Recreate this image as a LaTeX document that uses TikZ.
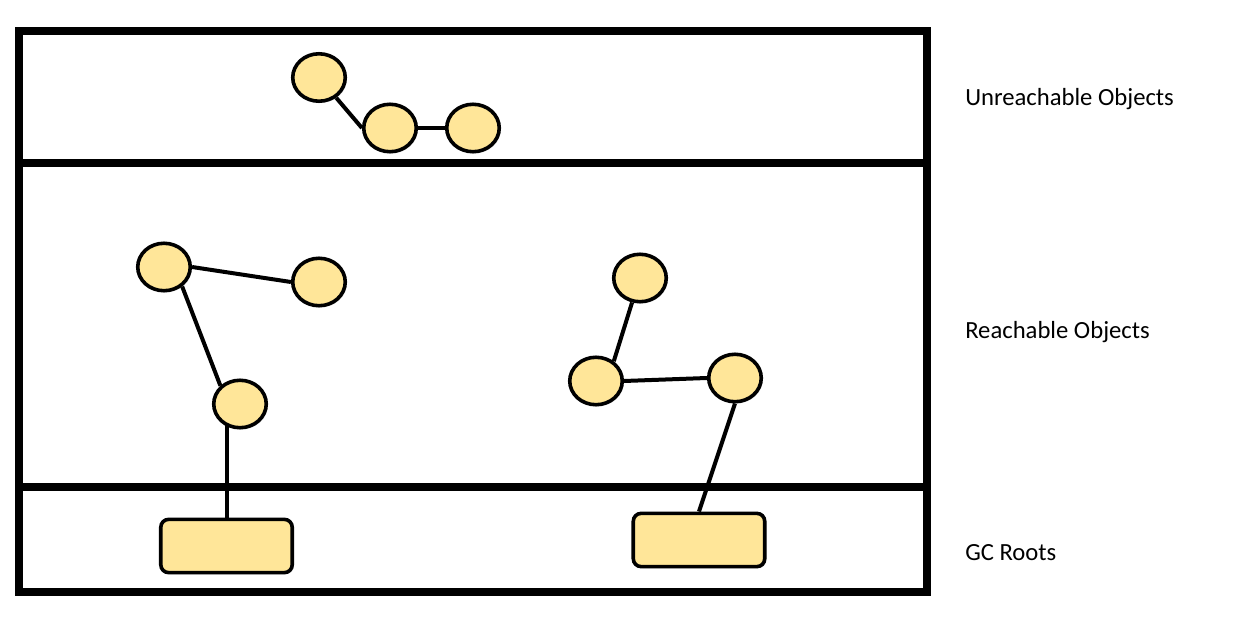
\documentclass[tikz,border=0pt]{standalone}
\usepackage{fontspec}
\setmainfont{Carlito}
\usetikzlibrary{shapes.geometric,backgrounds,shadows}
\definecolor{objfill}{HTML}{FFE699}
\tikzset{
  obj/.style={ellipse, draw=black, line width=2.7pt, fill=objfill, inner sep=0pt,
    minimum width=39.4pt, minimum height=35.6pt,
    drop shadow={shadow xshift=1.2pt, shadow yshift=-1.2pt, opacity=0.25}},
  root/.style={rectangle, rounded corners=6pt, draw=black, line width=2.7pt, fill=objfill,
    inner sep=0pt, minimum width=98.6pt, minimum height=40pt,
    drop shadow={shadow xshift=1.2pt, shadow yshift=-1.2pt, opacity=0.25}},
  link/.style={draw=black, line width=3pt},
  frame/.style={draw=black, line width=6pt},
  lbl/.style={anchor=west, inner sep=0pt, font=\fontsize{18.5}{22}\selectfont}
}
\begin{document}
\begin{tikzpicture}[x=0.75pt, y=-0.75pt]
\useasboundingbox (0,0) rectangle (1247,627);
% frame
\coordinate (tl) at (19,31);
\coordinate (br) at (927,592);
\coordinate (s1l) at (19,163);
\coordinate (s1r) at (927,163);
\coordinate (s2l) at (19,487);
\coordinate (s2r) at (927,487);
\draw[frame] (tl) rectangle (br);
\draw[frame] (s1l) -- (s1r);
\draw[frame] (s2l) -- (s2r);
% unreachable
\node[obj] (u1) at (319,77.5) {};
\node[obj] (u2) at (390,128) {};
\node[obj] (u3) at (473,128) {};
% reachable left
\node[obj] (a) at (164,267) {};
\node[obj] (b) at (319,282) {};
\node[obj] (c) at (240,404) {};
% reachable right
\node[obj] (t) at (640,278) {};
\node[obj] (l) at (596,381) {};
\node[obj] (r) at (735,378) {};
% roots
\node[root] (r1) at (226.5,546) {};
\node[root] (r2) at (699,540) {};
% links
\begin{pgfonlayer}{background}
\draw[link] (u2.west) -- (u1);
\draw[link] (u2.east) -- (u3.west);
\draw[link] (a.east) -- (b.west);
\draw[link] (a.-47) -- (c.137);
\draw[link] (t.-108) -- (l.48);
\draw[link] (l.east) -- (r.west);
\draw[link] (r1.north) -- (r1.north |- c.center);
\draw[link] (r.south) -- (r2.north);
\end{pgfonlayer}
% labels
\node[lbl] (lu) at (965,99) {Unreachable Objects};
\node[lbl] (lr) at (965,332) {Reachable Objects};
\node[lbl] (lg) at (965,553) {GC Roots};
\end{tikzpicture}
\end{document}
